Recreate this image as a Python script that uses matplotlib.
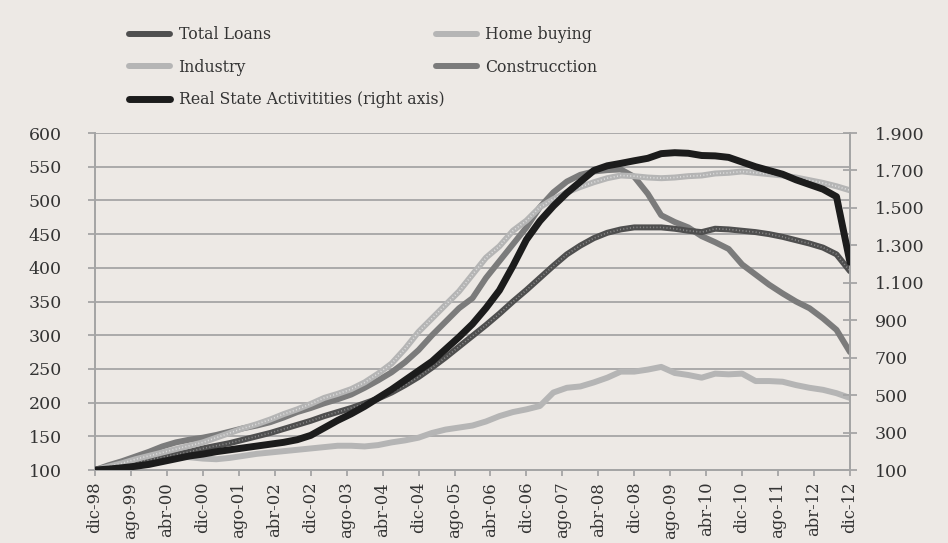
import numpy as np
import matplotlib.pyplot as plt
from matplotlib.ticker import FuncFormatter

# quarterly observations, dic-98 ... dic-12 (57 points)
total_loans = [100, 103, 107, 111, 115, 119, 123, 127, 132, 136, 140, 145, 150, 155, 161, 167,
               173, 180, 186, 192, 199, 206, 215, 226, 238, 252, 267, 283, 299, 315, 332, 350,
               367, 385, 403, 420, 433, 444, 452, 457, 460, 460, 460, 458, 455, 453, 458, 457,
               455, 453, 450, 446, 441, 436, 430, 420, 395]
home_buying = [100, 105, 110, 116, 121, 126, 131, 136, 141, 148, 155, 162, 168, 175, 183, 190,
               198, 207, 213, 220, 230, 243, 258, 280, 305, 325, 345, 365, 390, 415, 432, 455,
               470, 490, 502, 512, 520, 527, 533, 537, 536, 534, 533, 534, 536, 537, 540, 541,
               543, 541, 539, 537, 534, 530, 526, 521, 515]
industry = [100, 104, 108, 112, 115, 118, 120, 119, 117, 116, 118, 121, 124, 126, 128, 130,
            132, 134, 136, 136, 135, 137, 141, 144, 148, 155, 160, 163, 166, 172, 180, 186,
            190, 195, 215, 222, 224, 230, 237, 246, 246, 249, 253, 244, 241, 237, 243, 242,
            243, 232, 232, 231, 226, 222, 219, 214, 207]
construction = [100, 107, 113, 120, 127, 135, 141, 145, 148, 152, 157, 162, 166, 171, 178, 186,
                192, 199, 205, 212, 222, 233, 245, 260, 278, 300, 320, 340, 355, 385, 410, 435,
                460, 490, 512, 528, 538, 543, 545, 546, 535, 510, 478, 468, 460, 447, 438, 428,
                405, 390, 375, 362, 350, 340, 325, 308, 275]
real_estate = [100, 105, 112, 120, 130, 145, 160, 175, 185, 198, 208, 218, 228, 238, 248, 262,
               285, 325, 365, 400, 440, 485, 530, 580, 630, 680, 745, 810, 880, 965, 1060, 1190,
               1330, 1430, 1510, 1580, 1640, 1700, 1725, 1738, 1752, 1765, 1790, 1795, 1792, 1780,
               1778, 1770, 1745, 1720, 1700, 1680, 1650, 1625, 1600, 1560, 1210]

tick_labels = ['dic-98', 'ago-99', 'abr-00', 'dic-00', 'ago-01', 'abr-02', 'dic-02', 'ago-03',
               'abr-04', 'dic-04', 'ago-05', 'abr-06', 'dic-06', 'ago-07', 'abr-08', 'dic-08',
               'ago-09', 'abr-10', 'dic-10', 'ago-11', 'abr-12', 'dic-12']

bg = '#EDE9E5'
txt = '#333333'
grid = '#A5A5A5'
plt.rcParams['font.family'] = ['DejaVu Serif']

months = np.arange(len(total_loans)) * 3

fig = plt.figure(figsize=(9.48, 5.43), dpi=100, facecolor=bg)
ax = fig.add_axes([0.1002, 0.1344, 0.7964, 0.6206], facecolor=bg)
ax2 = ax.twinx()

# textured lines: solid base + fine dotted overlay
l1, = ax.plot(months, total_loans, color='#4f4f4f', lw=4.3, solid_capstyle='round', zorder=3)
ax.plot(months, total_loans, color='#8c8c8c', lw=1.2, ls=(0, (0.6, 1.4)), zorder=3)
l2, = ax.plot(months, home_buying, color='#b5b5b5', lw=4.3, solid_capstyle='round', zorder=3)
ax.plot(months, home_buying, color='#dedede', lw=1.2, ls=(0, (0.6, 1.4)), zorder=3)
l3, = ax.plot(months, industry, color='#b5b5b5', lw=4.3, solid_capstyle='round', zorder=2)
l4, = ax.plot(months, construction, color='#7b7b7b', lw=4.3, solid_capstyle='round', zorder=2)
l5, = ax2.plot(months, real_estate, color='#1c1c1c', lw=5, solid_capstyle='round', zorder=4)

ax.set_xlim(0, months[-1])
ax.set_ylim(100, 600)
ax.set_yticks(np.arange(100, 601, 50))
ax2.set_ylim(100, 1900)
ax2.set_yticks(np.arange(100, 1901, 200))
ax2.yaxis.set_major_formatter(FuncFormatter(lambda v, p: f'{int(v):,}'.replace(',', '.')))

ax.set_xticks(np.arange(0, months[-1] + 1, 8))
ax.set_xticklabels(tick_labels, rotation=90)

ax.yaxis.grid(True, color=grid, lw=1.3)
ax.set_axisbelow(True)

for a in (ax, ax2):
    for s in a.spines.values():
        s.set_color(grid)
        s.set_linewidth(1.3)
    a.spines['top'].set_visible(False)
    a.tick_params(colors=grid, labelcolor=txt, width=1.3, length=4.5, labelsize=12.5)
ax.tick_params(axis='x', pad=4, labelsize=11.8)
ax.tick_params(axis='y', length=5, pad=19)
ax2.tick_params(axis='y', direction='inout', length=10, pad=13)

leg1 = fig.legend([l1, l3, l5], ['Total Loans', 'Industry', 'Real State Activitities (right axis)'],
                  loc='upper left', bbox_to_anchor=(0.1213, 0.978), frameon=False,
                  handlelength=2.6, labelspacing=1.0, handletextpad=0.55, fontsize=11.3)
leg2 = fig.legend([l2, l4], ['Home buying', 'Construcction'],
                  loc='upper left', bbox_to_anchor=(0.445, 0.978), frameon=False,
                  handlelength=2.6, labelspacing=1.0, handletextpad=0.55, fontsize=11.3)
for leg in (leg1, leg2):
    for t in leg.get_texts():
        t.set_color(txt)

fig.savefig('out.png', dpi=100, facecolor=bg)
